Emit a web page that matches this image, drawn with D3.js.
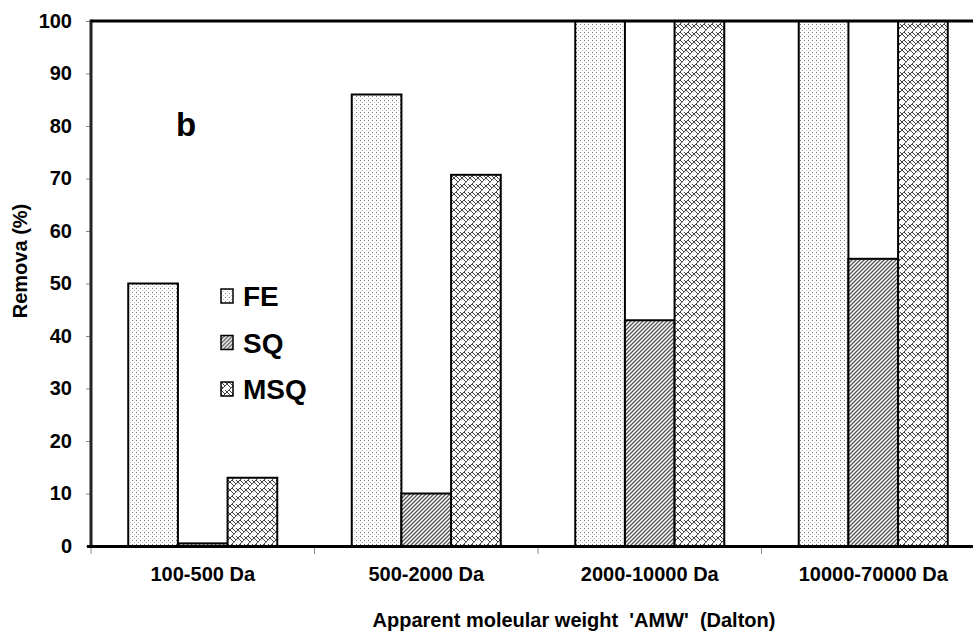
<!DOCTYPE html>
<html lang="en">
  <head>
    <meta charset="UTF-8" />
    <title>Removal by AMW</title>
    <script src="https://d3js.org/d3.v7.min.js"></script>
    <style>
      body { margin: 0; background: #fff; }
      svg { display: block; overflow: hidden; }
      text { font-family: "Liberation Sans", Arial, sans-serif; font-weight: bold; fill: #000; }
    </style>
  </head>
  <body>
    <div id="chart"></div>
    <script>
      // data
      var categories = ["100-500 Da", "500-2000 Da", "2000-10000 Da", "10000-70000 Da"];
      var seriesNames = ["FE", "SQ", "MSQ"];
      var feValues = [50, 86, 100, 100];
      var sqValues = [0.5, 10, 43, 54.7];
      var msqValues = [13, 70.7, 100, 100];
      var yTicks = [0, 10, 20, 30, 40, 50, 60, 70, 80, 90, 100];

      var series = [feValues, sqValues, msqValues];
      var patternIds = ["pFE", "pSQ", "pMSQ"];

      var width = 973,
        height = 631;
      var plotLeft = 91,
        plotTop = 21,
        plotBottom = 546,
        plotRight = 985; // plot runs past the window edge

      var svg = d3
        .select("#chart")
        .append("svg")
        .attr("width", width)
        .attr("height", height);

      // fill patterns
      var defs = svg.append("defs");
      var pFE = defs
        .append("pattern")
        .attr("id", "pFE")
        .attr("patternUnits", "userSpaceOnUse")
        .attr("width", 4)
        .attr("height", 4);
      pFE.append("rect").attr("width", 4).attr("height", 4).attr("fill", "#fff");
      pFE.append("rect").attr("x", 0).attr("y", 0).attr("width", 1).attr("height", 1).attr("fill", "#777");
      pFE.append("rect").attr("x", 2).attr("y", 2).attr("width", 1).attr("height", 1).attr("fill", "#bbb");

      var pSQ = defs
        .append("pattern")
        .attr("id", "pSQ")
        .attr("patternUnits", "userSpaceOnUse")
        .attr("width", 4)
        .attr("height", 4);
      pSQ.append("rect").attr("width", 4).attr("height", 4).attr("fill", "#fff");
      pSQ
        .append("path")
        .attr("d", "M-1,5 L5,-1 M-1,1 L1,-1 M3,5 L5,3")
        .attr("stroke", "#555")
        .attr("stroke-width", 1.3);

      var pMSQ = defs
        .append("pattern")
        .attr("id", "pMSQ")
        .attr("patternUnits", "userSpaceOnUse")
        .attr("width", 8)
        .attr("height", 8);
      pMSQ.append("rect").attr("width", 8).attr("height", 8).attr("fill", "#fff");
      pMSQ
        .append("path")
        .attr("d", "M-1,9 L9,-1 M-1,1 L1,-1 M7,9 L9,7 M0,0 L4,4 M4,8 L8,12 M4,0 L8,4 M0,4 L2,6")
        .attr("fill", "none")
        .attr("stroke", "#444")
        .attr("stroke-width", 1);

      // scales
      var x = d3.scaleBand().domain(categories).range([plotLeft, plotRight]).padding(0);
      var xs = d3
        .scaleBand()
        .domain(seriesNames)
        .range([0, x.bandwidth()])
        .paddingInner(0)
        .paddingOuter(0.75);
      var y = d3.scaleLinear().domain([0, 100]).range([plotBottom, plotTop]);

      // bars
      seriesNames.forEach(function (name, si) {
        svg
          .append("g")
          .selectAll("rect")
          .data(series[si])
          .join("rect")
          .attr("x", function (d, i) {
            return x(categories[i]) + xs(name);
          })
          .attr("y", function (d) {
            return y(d);
          })
          .attr("width", xs.bandwidth())
          .attr("height", function (d) {
            return plotBottom - y(d);
          })
          .attr("fill", "url(#" + patternIds[si] + ")")
          .attr("stroke", "#000")
          .attr("stroke-width", 2);
      });

      // y axis
      var yAxis = svg
        .append("g")
        .attr("transform", "translate(" + plotLeft + ",0)")
        .call(d3.axisLeft(y).tickValues(yTicks).tickSize(5).tickPadding(14));
      yAxis.select(".domain").remove();
      yAxis.selectAll(".tick line").attr("stroke", "#888");
      yAxis.selectAll(".tick text").style("font-size", "20px").style("font-family", null);

      svg
        .append("line")
        .attr("x1", plotLeft)
        .attr("x2", plotLeft)
        .attr("y1", plotTop - 1.5)
        .attr("y2", plotBottom + 1.5)
        .attr("stroke", "#222")
        .attr("stroke-width", 3);

      // top frame line
      svg
        .append("line")
        .attr("x1", plotLeft)
        .attr("x2", width)
        .attr("y1", plotTop)
        .attr("y2", plotTop)
        .attr("stroke", "#000")
        .attr("stroke-width", 3);

      // x axis
      var xAxis = svg
        .append("g")
        .attr("transform", "translate(0," + plotBottom + ")")
        .call(d3.axisBottom(x).tickSize(0).tickPadding(21));
      xAxis.select(".domain").remove();
      xAxis.selectAll(".tick text").style("font-size", "20px").style("font-family", null);

      svg
        .append("g")
        .selectAll("line")
        .data(categories)
        .join("line")
        .attr("x1", function (d) {
          return x(d);
        })
        .attr("x2", function (d) {
          return x(d);
        })
        .attr("y1", plotBottom)
        .attr("y2", plotBottom + 8)
        .attr("stroke", "#888");

      svg
        .append("line")
        .attr("x1", plotLeft - 4)
        .attr("x2", width)
        .attr("y1", plotBottom + 0.5)
        .attr("y2", plotBottom + 0.5)
        .attr("stroke", "#000")
        .attr("stroke-width", 3);

      // axis titles
      svg
        .append("text")
        .attr("x", 574)
        .attr("y", 627)
        .attr("text-anchor", "middle")
        .style("font-size", "20px")
        .style("white-space", "pre")
        .text("Apparent moleular weight  'AMW'  (Dalton)");

      svg
        .append("text")
        .attr("transform", "translate(27,261) rotate(-90)")
        .attr("text-anchor", "middle")
        .style("font-size", "20px")
        .text("Remova (%)");

      // panel letter
      svg
        .append("text")
        .attr("x", 176)
        .attr("y", 136)
        .style("font-size", "33px")
        .text("b");

      // legend
      var legend = svg
        .append("g")
        .selectAll("g")
        .data(seriesNames)
        .join("g")
        .attr("transform", function (d, i) {
          return "translate(221," + (289 + i * 46.5) + ")";
        });
      legend
        .append("rect")
        .attr("width", 12)
        .attr("height", 14)
        .attr("fill", function (d, i) {
          return "url(#" + patternIds[i] + ")";
        })
        .attr("stroke", "#000")
        .attr("stroke-width", 1.5);
      legend
        .append("text")
        .attr("x", 22)
        .attr("y", 17)
        .style("font-size", "28px")
        .text(function (d) {
          return d;
        });
    </script>
  </body>
</html>
